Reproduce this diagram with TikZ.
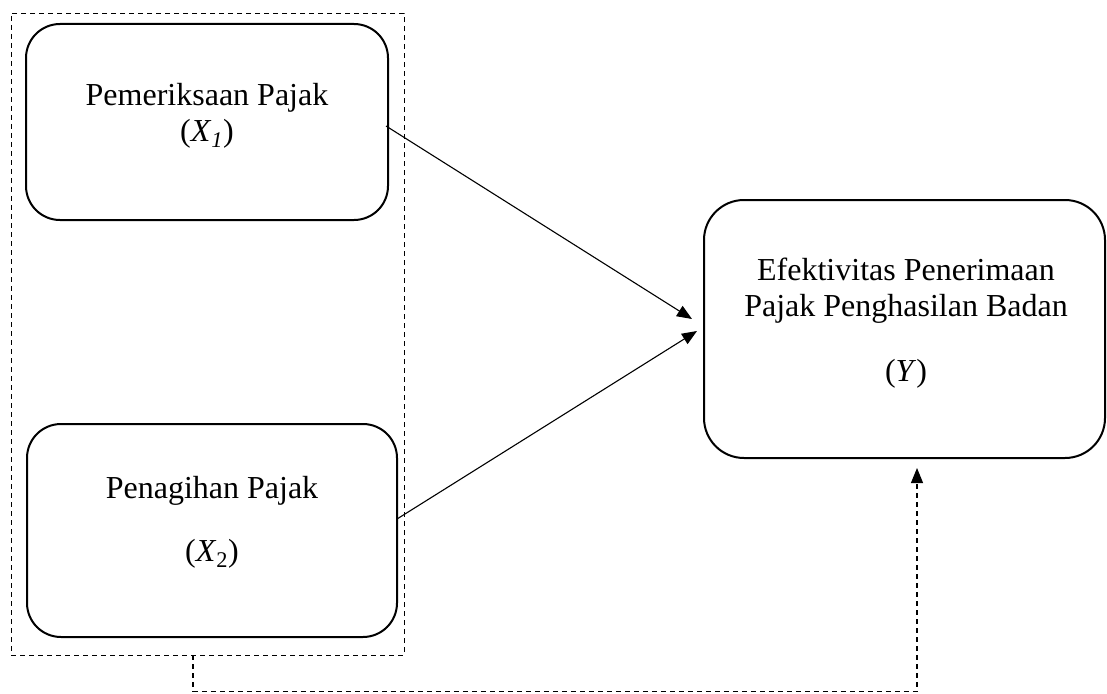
\documentclass[tikz,border=0pt]{standalone}
\usepackage{fontspec}
\setmainfont{Liberation Serif}
\usetikzlibrary{arrows.meta,calc}
\begin{document}
\begin{tikzpicture}[x=1pt,y=-1pt,
  varbox/.style={draw=black,line width=2pt,rounded corners=34pt,inner sep=0pt},
  grpbox/.style={draw=black,line width=0.9pt,dash pattern=on 5pt off 4pt,inner sep=0pt},
  lbl/.style={align=center,font=\fontsize{32}{36}\selectfont,inner sep=0pt},
  arr/.style={line width=1.1pt,-{Triangle[length=15pt,width=12pt]}},
  darr/.style={line width=1.1pt,dash pattern=on 5pt off 4pt,-{Triangle[length=15pt,width=12pt]}}]
\useasboundingbox (0,0) rectangle (1107,693);
% group
\node[grpbox,minimum width=393pt,minimum height=642pt] (grp) at (207.5,334) {};
% boxes
\node[varbox,minimum width=362pt,minimum height=196pt] (X1) at (207,122) {};
\node[varbox,minimum width=370pt,minimum height=213pt] (X2) at (212,530.5) {};
\node[varbox,minimum width=401pt,minimum height=258pt,rounded corners=40pt] (Y) at (904.5,329) {};
% texts
\node[lbl] (t1) at (207,116) {Pemeriksaan Pajak\\(\textit{X}\textsubscript{\textit{1}})};
\node[lbl] (t2) at (212,522) {Penagihan Pajak\\[27pt](\textit{X}\textsubscript{2})};
\node[lbl] (t3) at (906,323) {Efektivitas Penerimaan\\Pajak Penghasilan Badan\\[29pt](\textit{Y})};
% connectors
\draw[arr] ($(X1.east)+(-3,4)$) -- ($(Y.west)+(-11,-10)$);
\draw[arr] ($(X2.east)+(-1,-11.5)$) -- ($(Y.west)+(-6,2)$);
\coordinate (bend) at (917,691.5);
\draw[darr] ($(grp.south)+(-14.5,0)$) |- (bend) -- ($(Y.south)+(12.5,9)$);
\end{tikzpicture}
\end{document}
